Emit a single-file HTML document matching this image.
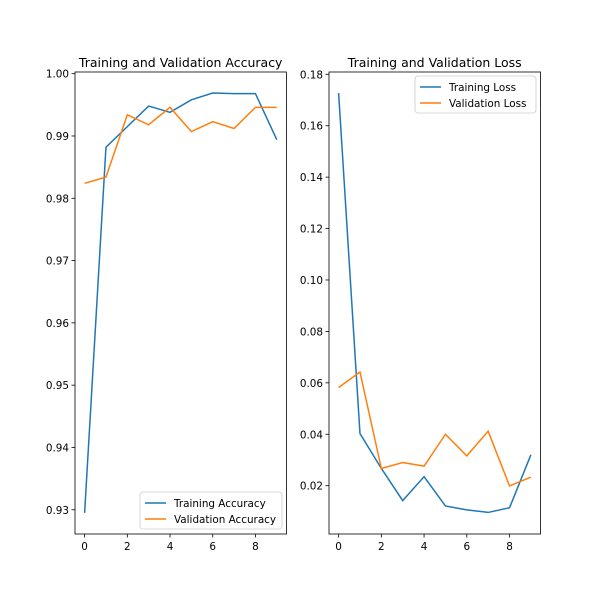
<!DOCTYPE html>
<html><head><meta charset="utf-8"><style>
body{margin:0;background:#fff}
svg text{font-family:"DejaVu Sans","Liberation Sans",sans-serif;fill:#000}
</style></head><body>
<svg id="s" width="600" height="600" xmlns="http://www.w3.org/2000/svg"></svg>
<script>
const s=document.getElementById('s');let h='';
function ax(L,R,T,B,ymin,ymax,yt,fmt,title,series,leg){
 const xmin=-0.45,xmax=9.45;
 const X=v=>L+(v-xmin)/(xmax-xmin)*(R-L), Y=v=>B-(v-ymin)/(ymax-ymin)*(B-T);
 h+=`<text x="${(L+R)/2}" y="${T-5}" font-size="12.5" text-anchor="middle">${title}</text>`;
 for(const t of [0,2,4,6,8]){const x=X(t);h+=`<line x1="${x}" x2="${x}" y1="${B}" y2="${B+3.5}" stroke="#000" stroke-width="0.8"/><text x="${x}" y="${B+16}" font-size="10.4" text-anchor="middle">${t}</text>`;}
 for(const t of yt){const y=Y(t);h+=`<line x1="${L-3.5}" x2="${L}" y1="${y}" y2="${y}" stroke="#000" stroke-width="0.8"/><text x="${L-6}" y="${y+4}" font-size="10.4" text-anchor="end">${t.toFixed(fmt)}</text>`;}
 for(const [d,c] of series){h+=`<polyline fill="none" stroke="${c}" stroke-width="1.5" points="${d.map((v,i)=>X(i)+','+Y(v)).join(' ')}"/>`;}
 h+=`<rect x="${L}" y="${T}" width="${R-L}" height="${B-T}" fill="none" stroke="#000" stroke-width="0.8"/>`;
 const [lx,ly,lw,labels]=leg;
 h+=`<rect x="${lx}" y="${ly}" width="${lw}" height="37" rx="3" fill="#fff" fill-opacity="0.8" stroke="#ccc" stroke-width="0.8"/>`;
 labels.forEach((t,i)=>{const y=ly+11+i*16;h+=`<line x1="${lx+5}" x2="${lx+26}" y1="${y}" y2="${y}" stroke="${series[i][1]}" stroke-width="1.5"/><text x="${lx+34}" y="${y+4}" font-size="10.4">${t}</text>`;});
}
ax(75,286.4,72,534,0.92611,1.00027,[0.93,0.94,0.95,0.96,0.97,0.98,0.99,1.00],2,'Training and Validation Accuracy',
 [[[0.9295,0.9882,0.9915,0.9948,0.9938,0.9958,0.9969,0.9968,0.9968,0.9894],'#1f77b4'],
  [[0.9824,0.9834,0.9934,0.9918,0.9946,0.9907,0.9923,0.9912,0.9946,0.9946],'#ff7f0e']],
 [140,492,142,['Training Accuracy','Validation Accuracy']]);
ax(329,540.5,72,534,0.00121,0.18089,[0.02,0.04,0.06,0.08,0.10,0.12,0.14,0.16,0.18],2,'Training and Validation Loss',
 [[[0.1727,0.0403,0.0267,0.0142,0.0235,0.0121,0.0106,0.0096,0.0114,0.0320],'#1f77b4'],
  [[0.0582,0.0642,0.0267,0.0290,0.0276,0.0400,0.0316,0.0412,0.0199,0.0233],'#ff7f0e']],
 [415,76,121,['Training Loss','Validation Loss']]);
s.innerHTML=h;
</script>
</body></html>
